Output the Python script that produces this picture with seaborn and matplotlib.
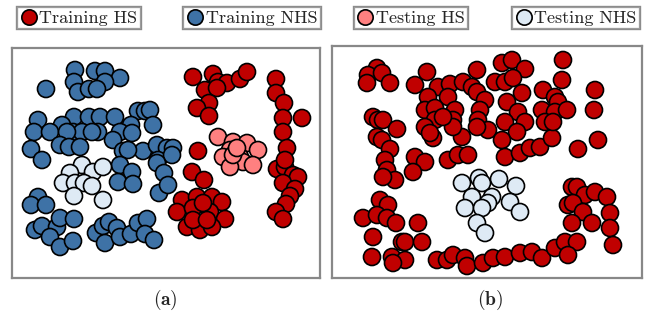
import pandas as pd
import seaborn as sns
import matplotlib.pyplot as plt
from matplotlib.lines import Line2D

# point positions (pixel coords of the original figure)
train_nhs_a = [(75,70),(95,71),(105,71),(120,78),(74,82),(105,82),(46,89),(78,92),(89,89),(97,89),
               (38,120),(74,117),(89,117),(100,117),(115,117),(138,111),(145,111),(150,110),(131,125),(153,125),(62,125),
               (34,132),(50,132),(73,132),(82,132),(98,132),(92,132),(120,132),(132,133),(67,132),
               (31,149),(60,145),(69,147),(80,147),(113,140),(123,151),(143,151),(157,145),(167,148),(42,160),(158,160),
               (173,148),(172,155),(128,150),
               (120,165),(132,172),(118,182),(133,184),(157,163),(164,173),(159,193),(168,185),
               (38,197),(31,205),(46,205),
               (35,230),(42,226),(57,227),(60,218),(74,219),(50,237),(60,247),(73,241),
               (96,233),(103,226),(109,222),(117,228),(105,243),(120,237),(131,234),(138,223),(147,219),(145,234),(154,240)]
test_nhs_a = [(82,165),(93,172),(103,167),(70,173),(63,183),(75,183),(84,183),(92,186),(74,196),(103,200)]
train_hs_a = [(193,77),(213,74),(218,82),(227,83),(240,79),(247,72),(205,90),(217,88),(209,103),(197,108),(209,116),
              (276,79),(276,93),(284,103),(283,118),(302,118),(283,132),(287,148),(198,151),(192,172),(204,180),
              (277,169),(285,167),(285,160),(293,175),(298,177),(283,183),(295,189),(290,196),(286,204),(276,212),(283,219),
              (182,200),(197,197),(212,197),(222,202),(177,212),(193,208),(210,212),(225,219),(187,227),(200,230),
              (212,227),(193,220),(203,203),(207,220)]
test_hs_a = [(218,137),(233,142),(247,143),(258,150),(230,150),(223,157),(240,157),(243,162),(230,167),(253,165),
             (233,155),(237,148)]

train_hs_b = [(377,68),(368,75),(367,83),(382,73),(390,83),
              (427,72),(415,85),(438,87),(450,84),(428,97),(448,97),(425,110),(435,108),(455,110),(435,120),(453,120),
              (425,127),(433,138),(462,137),(430,133),(453,127),(443,117),
              (477,70),(463,82),(472,87),(477,92),(485,100),(480,110),(478,120),(488,130),(477,127),
              (502,63),(512,60),(525,69),(495,82),(505,82),(513,78),(522,93),(507,102),(518,112),(505,122),(525,122),
              (517,132),(502,140),(505,157),(520,153),(530,148),(540,147),(552,138),
              (563,60),(562,80),(543,90),(555,97),(558,102),(542,110),(555,112),(567,110),(545,122),(553,122),
              (595,90),(594,110),(598,140),(578,149),
              (373,117),(378,120),(383,120),(397,129),(377,137),(382,140),(390,149),(385,160),(387,170),(395,180),
              (383,177),(415,157),(425,162),(413,172),(448,160),(458,155),(468,155),
              (380,200),(388,205),(363,218),(377,215),(387,218),(396,223),(418,223),(373,237),(402,242),(405,242),
              (422,242),(372,257),(392,257),(405,260),(393,263),
              (437,260),(447,260),(453,255),(465,258),(467,266),(483,263),(493,258),(505,257),(520,253),(532,252),
              (542,258),(555,248),(565,242),(577,242),(568,255),
              (572,187),(577,187),(585,195),(595,192),(607,197),(568,205),(573,203),(583,212),(610,213),(572,223),
              (592,223),(610,228),(613,245)]
test_nhs_b = [(462,183),(479,178),(482,183),(499,179),(516,186),(472,197),(492,197),(488,203),(510,202),(465,208),
              (482,208),(520,212),(477,223),(485,233)]

labels = ['Training HS', 'Training NHS', 'Testing HS', 'Testing NHS']
colors = {'Training HS': '#C00000', 'Training NHS': '#3E72A6',
          'Testing HS': '#FF8080', 'Testing NHS': '#DEEAF5'}


def make_df(groups):
    rows = []
    for name, pts in groups:
        for x, y in pts:
            rows.append({'x': x, 'y': y, 'label': name})
    return pd.DataFrame(rows)


df_a = make_df([('Training NHS', train_nhs_a), ('Training HS', train_hs_a),
                ('Testing NHS', test_nhs_a), ('Testing HS', test_hs_a)])
df_b = make_df([('Training HS', train_hs_b), ('Testing NHS', test_nhs_b)])

sns.set_style('white')
plt.rcParams['font.family'] = ['cmr10']
plt.rcParams['mathtext.fontset'] = 'cm'
plt.rcParams['axes.formatter.use_mathtext'] = True

fig = plt.figure(figsize=(6.5, 3.16), dpi=100)
ax_a = fig.add_axes([12/650, 1-278/316, 308/650, 230/316])
ax_b = fig.add_axes([332/650, 1-278/316, 310/650, 232/316])

for ax, df, xl, yl in [(ax_a, df_a, (12, 320), (278, 48)), (ax_b, df_b, (332, 642), (278, 46))]:
    sns.scatterplot(data=df, x='x', y='y', hue='label', palette=colors, s=150,
                    edgecolor='black', linewidth=1.2, legend=False, ax=ax)
    ax.set_xlim(*xl)
    ax.set_ylim(*yl)
    ax.set_xticks([])
    ax.set_yticks([])
    ax.set_xlabel('')
    ax.set_ylabel('')
    for sp in ax.spines.values():
        sp.set_color('#888888')
        sp.set_linewidth(1.6)

# four separate legend boxes on top
centers = [79, 252, 411, 576]
for lab, cx in zip(labels, centers):
    h = Line2D([], [], ls='', marker='o', markersize=11, markerfacecolor=colors[lab],
               markeredgecolor='black', markeredgewidth=1.2)
    leg = fig.legend(handles=[h], labels=[lab], loc='center', bbox_to_anchor=(cx/650, 1-18/316),
                     fontsize=13, frameon=True, fancybox=False, handletextpad=0.15,
                     handlelength=0.9, borderpad=0.2, borderaxespad=0)
    leg.get_frame().set_edgecolor('#888888')
    leg.get_frame().set_linewidth(1.6)
    fig.add_artist(leg)

fig.text(165/650, 1-300/316, r'$\mathbf{(a)}$', fontsize=14, ha='center', va='center')
fig.text(490/650, 1-300/316, r'$\mathbf{(b)}$', fontsize=14, ha='center', va='center')

fig.savefig('out.png', dpi=100)
